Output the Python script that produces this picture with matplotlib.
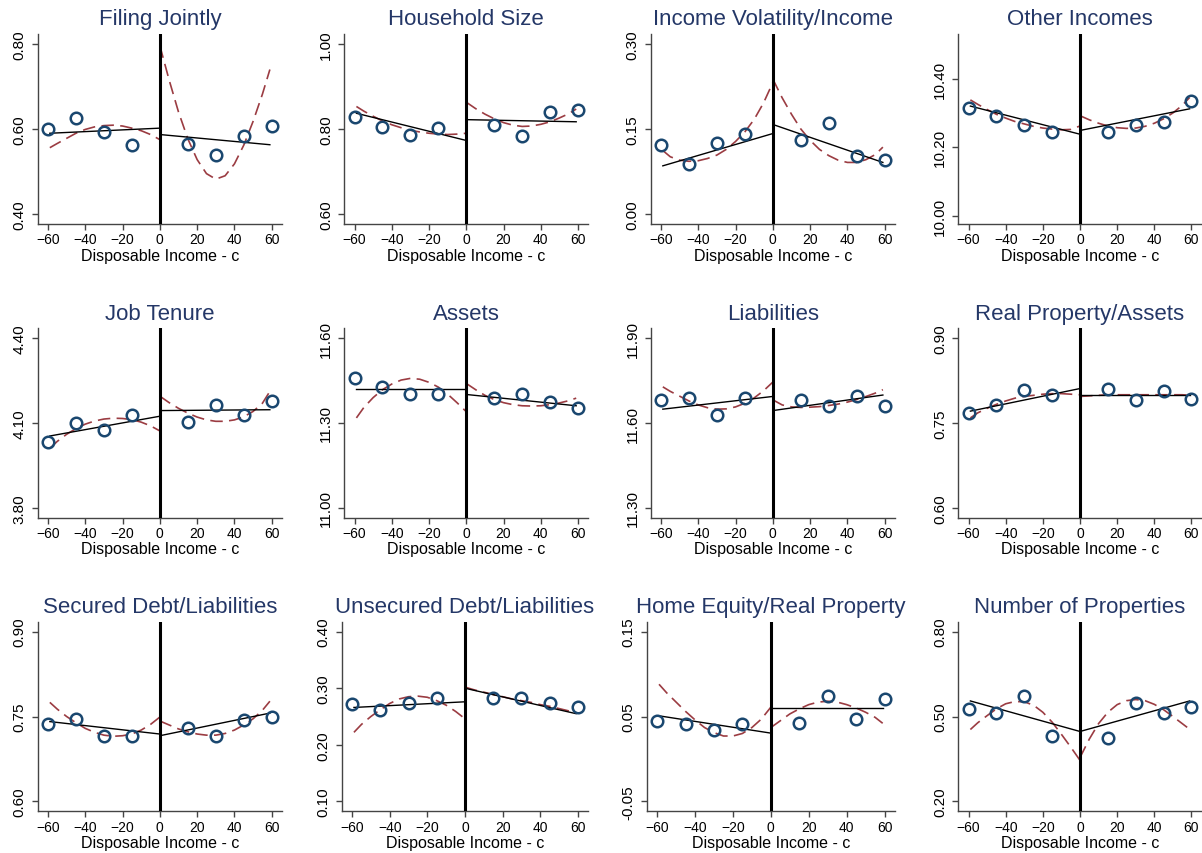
import matplotlib
matplotlib.use("Agg")
import matplotlib.pyplot as plt
from matplotlib.ticker import FormatStrFormatter

plt.rcParams['font.family'] = ['Liberation Sans', 'DejaVu Sans']

titles = ["Filing Jointly", "Household Size", "Income Volatility/Income", "Other Incomes",
          "Job Tenure", "Assets", "Liabilities", "Real Property/Assets",
          "Secured Debt/Liabilities", "Unsecured Debt/Liabilities",
          "Home Equity/Real Property", "Number of Properties"]

# binned means
bin_x = [-60, -45, -30, -15, 15, 30, 45, 60]
bin_y = [
    [0.600, 0.625, 0.594, 0.562, 0.565, 0.539, 0.583, 0.607],
    [0.829, 0.805, 0.786, 0.802, 0.809, 0.784, 0.841, 0.845],
    [0.121, 0.089, 0.125, 0.141, 0.131, 0.160, 0.103, 0.095],
    [10.314, 10.290, 10.264, 10.245, 10.244, 10.265, 10.275, 10.334],
    [4.032, 4.100, 4.075, 4.128, 4.102, 4.165, 4.129, 4.179],
    [11.460, 11.427, 11.404, 11.401, 11.387, 11.402, 11.373, 11.354],
    [11.681, 11.690, 11.628, 11.687, 11.682, 11.659, 11.696, 11.659],
    [0.768, 0.782, 0.808, 0.800, 0.811, 0.791, 0.806, 0.792],
    [0.736, 0.746, 0.716, 0.716, 0.730, 0.716, 0.744, 0.750],
    [0.272, 0.261, 0.274, 0.282, 0.282, 0.282, 0.273, 0.266],
    [0.0445, 0.0406, 0.0335, 0.0406, 0.0425, 0.0739, 0.0473, 0.0708],
    [0.527, 0.512, 0.572, 0.431, 0.424, 0.548, 0.512, 0.532],
]

# linear fits: values at the ends of each side
lin_x_left = [-59, 0]
lin_x_right = [0, 59]
lin_left = [
    [0.590, 0.602], [0.837, 0.773], [0.085, 0.142], [10.320, 10.238],
    [4.054, 4.124], [11.421, 11.421], [11.649, 11.694], [0.771, 0.811],
    [0.741, 0.719], [0.266, 0.276], [0.0508, 0.0304], [0.555, 0.447],
]
lin_right = [
    [0.587, 0.563], [0.822, 0.817], [0.158, 0.091], [10.249, 10.312],
    [4.144, 4.147], [11.401, 11.361], [11.644, 11.699], [0.800, 0.800],
    [0.716, 0.756], [0.300, 0.255], [0.0598, 0.0598], [0.447, 0.555],
]

# polynomial fits
poly_x_left = [-59, -55, -50, -45, -40, -35, -30, -25, -20, -15, -10, -5, 0]
poly_x_right = [0, 5, 10, 15, 20, 25, 30, 35, 40, 45, 50, 55, 59]
poly_left = [
    [0.556, 0.566, 0.578, 0.590, 0.599, 0.605, 0.608, 0.609, 0.607, 0.602, 0.596, 0.587, 0.575],
    [0.853, 0.842, 0.830, 0.819, 0.810, 0.803, 0.797, 0.793, 0.790, 0.788, 0.787, 0.788, 0.790],
    [0.112, 0.101, 0.095, 0.093, 0.094, 0.098, 0.104, 0.114, 0.128, 0.145, 0.167, 0.196, 0.232],
    [10.338, 10.325, 10.310, 10.296, 10.285, 10.275, 10.268, 10.261, 10.256, 10.253, 10.251, 10.252, 10.262],
    [4.010, 4.035, 4.060, 4.080, 4.096, 4.107, 4.114, 4.117, 4.116, 4.112, 4.103, 4.090, 4.072],
    [11.318, 11.355, 11.390, 11.418, 11.438, 11.452, 11.458, 11.455, 11.444, 11.427, 11.402, 11.372, 11.340],
    [11.728, 11.712, 11.695, 11.678, 11.664, 11.654, 11.649, 11.650, 11.657, 11.670, 11.689, 11.714, 11.745],
    [0.759, 0.768, 0.776, 0.783, 0.789, 0.794, 0.797, 0.799, 0.801, 0.802, 0.802, 0.801, 0.800],
    [0.775, 0.763, 0.750, 0.739, 0.729, 0.722, 0.717, 0.715, 0.716, 0.719, 0.726, 0.736, 0.749],
    [0.222, 0.236, 0.250, 0.262, 0.273, 0.281, 0.285, 0.286, 0.284, 0.278, 0.270, 0.259, 0.246],
    [0.088, 0.078, 0.067, 0.056, 0.046, 0.037, 0.031, 0.027, 0.027, 0.030, 0.037, 0.047, 0.061],
    [0.454, 0.478, 0.503, 0.527, 0.545, 0.553, 0.552, 0.540, 0.515, 0.480, 0.437, 0.392, 0.345],
]
poly_right = [
    [0.796, 0.715, 0.640, 0.577, 0.528, 0.495, 0.482, 0.490, 0.518, 0.562, 0.618, 0.682, 0.740],
    [0.863, 0.848, 0.835, 0.824, 0.815, 0.809, 0.806, 0.807, 0.811, 0.817, 0.826, 0.836, 0.847],
    [0.238, 0.205, 0.176, 0.150, 0.130, 0.114, 0.103, 0.095, 0.091, 0.091, 0.096, 0.105, 0.118],
    [10.292, 10.280, 10.270, 10.262, 10.257, 10.255, 10.256, 10.261, 10.270, 10.283, 10.300, 10.322, 10.345],
    [4.195, 4.172, 4.152, 4.135, 4.121, 4.111, 4.106, 4.106, 4.111, 4.122, 4.141, 4.170, 4.212],
    [11.440, 11.418, 11.398, 11.383, 11.372, 11.365, 11.361, 11.360, 11.361, 11.365, 11.371, 11.379, 11.388],
    [11.682, 11.664, 11.657, 11.655, 11.656, 11.658, 11.662, 11.667, 11.674, 11.683, 11.694, 11.706, 11.718],
    [0.797, 0.798, 0.799, 0.800, 0.800, 0.800, 0.800, 0.800, 0.800, 0.800, 0.800, 0.800, 0.799],
    [0.742, 0.735, 0.728, 0.723, 0.719, 0.717, 0.717, 0.720, 0.726, 0.735, 0.746, 0.761, 0.777],
    [0.302, 0.297, 0.293, 0.289, 0.285, 0.281, 0.278, 0.275, 0.271, 0.268, 0.264, 0.260, 0.257],
    [0.037, 0.045, 0.053, 0.059, 0.064, 0.067, 0.068, 0.067, 0.064, 0.060, 0.055, 0.049, 0.042],
    [0.355, 0.420, 0.475, 0.515, 0.542, 0.556, 0.560, 0.556, 0.543, 0.524, 0.500, 0.475, 0.455],
]

y_ticks = [
    [0.40, 0.60, 0.80], [0.60, 0.80, 1.00], [0.00, 0.15, 0.30], [10.00, 10.20, 10.40],
    [3.80, 4.10, 4.40], [11.00, 11.30, 11.60], [11.30, 11.60, 11.90], [0.60, 0.75, 0.90],
    [0.60, 0.75, 0.90], [0.10, 0.20, 0.30, 0.40], [-0.05, 0.05, 0.15], [0.20, 0.50, 0.80],
]
x_ticks = [-60, -40, -20, 0, 20, 40, 60]

W, H = 1202, 854
fig = plt.figure(figsize=(W / 100, H / 100), dpi=100)
fig.patch.set_facecolor('white')

row_top = [35, 329.3, 622.7]
row_bot = [225, 518.7, 812.3]
col_left = [[37.7, 344.3, 650.7, 958.3], [37.7, 344.3, 650.7, 958.3], [37.7, 341.7, 646.7, 958.3]]
col_right = [282, 588.3, 895, 1201.7]

navy = '#1a476f'
cranberry = '#9b3c42'
title_col = '#243767'
axis_col = '#444444'

for i in range(12):
    r, c = divmod(i, 4)
    l, rt = col_left[r][c], col_right[c]
    ax = fig.add_axes([l / W, (H - row_bot[r]) / H, (rt - l) / W, (row_bot[r] - row_top[r]) / H])

    ax.plot(lin_x_left, lin_left[i], color='black', lw=1.0, zorder=3)
    ax.plot(lin_x_right, lin_right[i], color='black', lw=1.0, zorder=3)
    ax.plot(poly_x_left, poly_left[i], color=cranberry, lw=1.2, dashes=(7.5, 3.8), zorder=2)
    ax.plot(poly_x_right, poly_right[i], color=cranberry, lw=1.2, dashes=(7.5, 3.8), zorder=2)
    ax.plot(bin_x, bin_y[i], linestyle='none', marker='o', markersize=8.3,
            markerfacecolor='none', markeredgecolor=navy, markeredgewidth=1.8, zorder=4)
    ax.axvline(0, color='black', lw=2.2, zorder=5)

    t = y_ticks[i]
    span = t[-1] - t[0]
    pad = span * 10 / 170
    top = t[-1] + pad
    if i == 3:
        top = 10.53
    ax.set_ylim(t[0] - pad, top)
    ax.set_xlim(-65.5, 65.5)
    ax.set_yticks(t)
    ax.set_xticks(x_ticks)
    ax.yaxis.set_major_formatter(FormatStrFormatter('%.2f'))

    for s in ['top', 'right']:
        ax.spines[s].set_visible(False)
    for s in ['left', 'bottom']:
        ax.spines[s].set_color(axis_col)
        ax.spines[s].set_linewidth(1.0)
    ax.tick_params(axis='both', color=axis_col, length=4, width=1.0, labelcolor='black')
    ax.tick_params(axis='x', pad=2, labelsize=10)
    ax.tick_params(axis='y', pad=4, labelsize=11)
    for lab in ax.get_yticklabels():
        lab.set_rotation(90)
        lab.set_va('center')

    ax.set_title(titles[i], fontsize=16, color=title_col, pad=7)
    ax.set_xlabel('Disposable Income - c', fontsize=11.5, labelpad=1)

fig.savefig('out.png', dpi=100)
